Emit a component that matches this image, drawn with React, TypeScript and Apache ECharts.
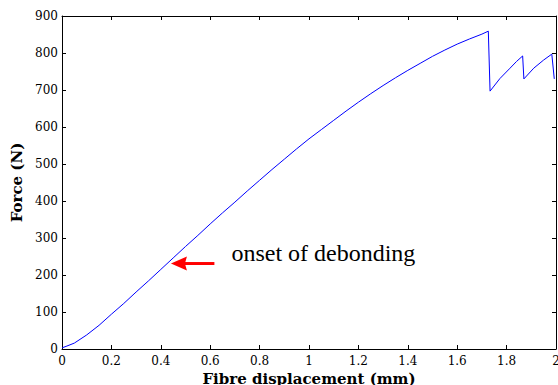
import React, { useEffect, useRef } from "react";
import * as echarts from "echarts";

const displacement = [
  0, 0.02, 0.05, 0.1, 0.15, 0.2, 0.25, 0.3, 0.35, 0.4, 0.45, 0.5, 0.55, 0.6, 0.65, 0.7, 0.75, 0.8,
  0.85, 0.9, 0.95, 1.0, 1.05, 1.1, 1.15, 1.2, 1.25, 1.3, 1.35, 1.4, 1.45, 1.5, 1.55, 1.6, 1.65,
  1.7, 1.726, 1.733, 1.773, 1.814, 1.84, 1.865, 1.87, 1.91, 1.95, 1.983, 1.993,
];
const force = [
  3, 8, 16, 38, 64, 94, 123, 154, 184, 215, 246, 277, 307, 338, 368, 397, 427, 456,
  485, 513, 541, 568, 593, 618, 643, 667, 690, 712, 733, 753, 772, 791, 808, 824, 838,
  851, 859, 697, 731, 759, 777, 792, 730, 759, 781, 797, 730,
];

const xTicks = { min: 0, max: 2, interval: 0.2 };
const yTicks = { min: 0, max: 900, interval: 100 };

const arrowTail = [0.617, 231];
const arrowTip = [0.441, 231];
const annotation = "onset of debonding";

export default function App() {
  const ref = useRef<HTMLDivElement>(null);
  useEffect(() => {
    if (!ref.current) return;
    const chart = echarts.init(ref.current, null, { renderer: "svg" });
    const serif = "DejaVu Serif";
    const axisLine = { show: true, onZero: false, lineStyle: { color: "#000", width: 1 } };
    const tick = { show: true, inside: true, length: 4, lineStyle: { color: "#000", width: 1 } };
    chart.setOption({
      animation: false,
      backgroundColor: "#fff",
      grid: { left: 62, top: 16, right: 2, bottom: 36, containLabel: false, outerBoundsMode: "none" },
      xAxis: [
        {
          type: "value",
          ...xTicks,
          position: "bottom",
          axisLine,
          axisTick: tick,
          splitLine: { show: false },
          axisLabel: { color: "#000", fontFamily: serif, fontSize: 12, margin: 6, hideOverlap: false },
          name: "Fibre displacement (mm)",
          nameLocation: "middle",
          nameGap: 20,
          nameTextStyle: { color: "#000", fontFamily: serif, fontSize: 15, fontWeight: "bold" },
        },
        {
          type: "value",
          ...xTicks,
          position: "top",
          axisLine,
          axisTick: tick,
          splitLine: { show: false },
          axisLabel: { show: false },
        },
      ],
      yAxis: [
        {
          type: "value",
          ...yTicks,
          position: "left",
          axisLine,
          axisTick: tick,
          splitLine: { show: false },
          axisLabel: { color: "#000", fontFamily: serif, fontSize: 12, margin: 4 },
          name: "Force (N)",
          nameLocation: "middle",
          nameGap: 34,
          nameTextStyle: { color: "#000", fontFamily: serif, fontSize: 15, fontWeight: "bold" },
        },
        {
          type: "value",
          ...yTicks,
          position: "right",
          axisLine,
          axisTick: tick,
          splitLine: { show: false },
          axisLabel: { show: false },
        },
      ],
      series: [
        {
          type: "line",
          data: displacement.map((d, i) => [d, force[i]]),
          showSymbol: false,
          symbol: "none",
          lineStyle: { color: "#0000ff", width: 1 },
          clip: false,
        },
      ],
    });
    const tail = chart.convertToPixel({ gridIndex: 0 }, arrowTail) as number[];
    const tip = chart.convertToPixel({ gridIndex: 0 }, arrowTip) as number[];
    const headLen = 16;
    const headHalf = 7;
    chart.setOption({
      graphic: [
        {
          type: "line",
          shape: { x1: tail[0], y1: tail[1], x2: tip[0] + headLen - 2, y2: tip[1] },
          style: { stroke: "#ff0000", lineWidth: 3 },
        },
        {
          type: "polygon",
          shape: {
            points: [
              [tip[0], tip[1]],
              [tip[0] + headLen, tip[1] - headHalf],
              [tip[0] + headLen - 2, tip[1]],
              [tip[0] + headLen, tip[1] + headHalf],
            ],
          },
          style: { fill: "#ff0000" },
        },
        {
          type: "text",
          x: tail[0] + 17,
          y: tail[1] - 11,
          style: {
            text: annotation,
            fill: "#000",
            font: "24px 'Liberation Serif'",
            textAlign: "left",
            textVerticalAlign: "middle",
          },
        },
      ],
    });
    return () => chart.dispose();
  }, []);
  return (
    <div
      ref={ref}
      style={{ position: "fixed", left: 0, top: 0, width: 558, height: 385 }}
    />
  );
}
